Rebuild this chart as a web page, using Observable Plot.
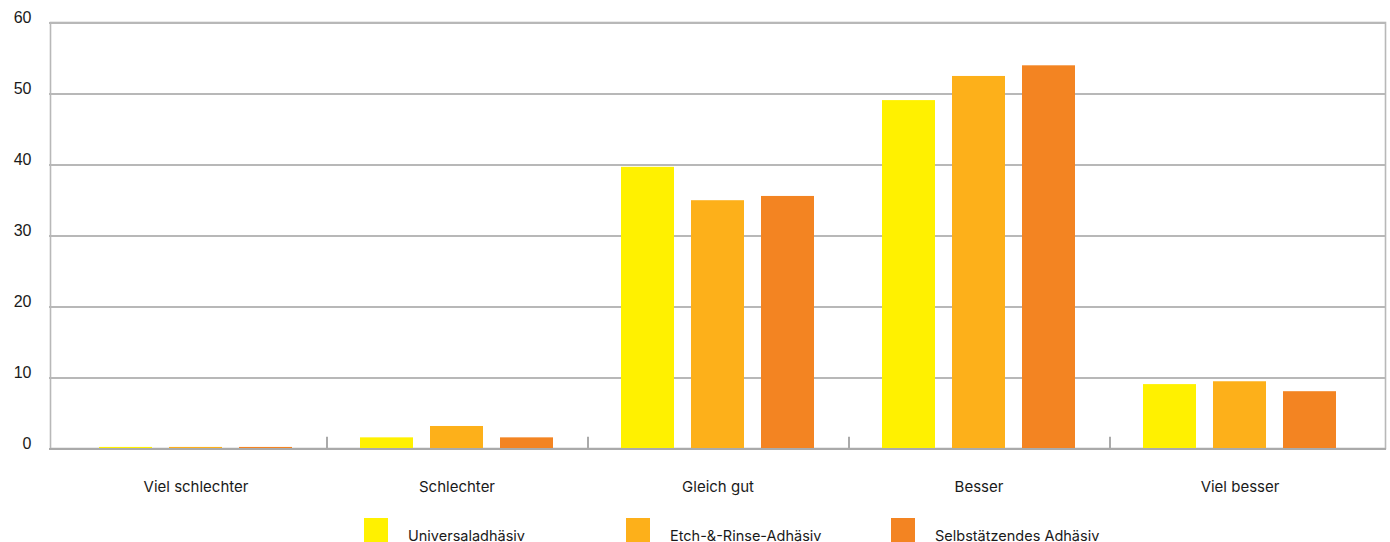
<!DOCTYPE html>
<html>
<head>
<meta charset="utf-8">
<script src="https://cdn.jsdelivr.net/npm/d3@7"></script>
<script src="https://cdn.jsdelivr.net/npm/@observablehq/plot@0.6"></script>
<style>
  html, body { margin: 0; padding: 0; background: #fff; }
  #chart { width: 1390px; }
  #legend { position: relative; width: 1390px; height: 37px; font-family: Inter, "Liberation Sans", sans-serif; font-size: 14.5px; color: #1a1a1a; }
  .item { position: absolute; top: 13px; height: 24px; display: flex; align-items: center; }
  .sw { width: 24px; height: 24px; margin-right: 20px; }
  .lbl { position: relative; top: 5px; }
</style>
</head>
<body>
<div id="chart"></div>
<div id="legend"></div>
<script>
const categories = ["Viel schlechter", "Schlechter", "Gleich gut", "Besser", "Viel besser"];
const series = ["Universaladhäsiv", "Etch-&-Rinse-Adhäsiv", "Selbstätzendes Adhäsiv"];
const universal = [0.15, 1.5, 39.6, 49.0, 9.0];
const etchRinse = [0.15, 3.1, 34.9, 52.4, 9.4];
const selbst    = [0.15, 1.5, 35.5, 53.9, 8.0];
const colors = ["#FFF100", "#FDB01A", "#F38422"];
const yTicks = [0, 10, 20, 30, 40, 50, 60];

const valuesBySeries = [universal, etchRinse, selbst];
const data = [];
categories.forEach((c, i) => series.forEach((s, j) => data.push({category: c, series: s, value: valuesBySeries[j][i]})));

const gridColor = "#b8b8b8";
const ext = -15;

function build(level) {
  const marks = [];
  if (level >= 1) marks.push(Plot.frame({facet: "super", stroke: gridColor, strokeWidth: 1.6, insetLeft: ext, insetRight: ext}));
  marks.push(Plot.ruleY(yTicks.filter(d => d > 0), {y: d => d, stroke: gridColor, strokeWidth: 2, insetLeft: ext - 1, insetRight: ext - 1, shapeRendering: "crispEdges"}));
  marks.push(Plot.barY(data, {fx: "category", x: "series", y: "value", fill: "series"}));
  marks.push(Plot.ruleY([0], {stroke: "#aaaaaa", strokeWidth: 2, insetLeft: ext - 1, insetRight: ext - 1, shapeRendering: "crispEdges"}));
  marks.push(Plot.ruleX(categories.slice(1), {fx: d => d, x: () => series[0], y1: 0, y2: 1.6, stroke: "#aaaaaa", strokeWidth: 2, dx: -60}));
  const useAxisMark = typeof Plot.axisY === "function";
  if (useAxisMark) {
    marks.push(Plot.axisY(yTicks, {tickSize: 0, tickPadding: 34, dy: -5, tickFormat: d => String(d), fontSize: 16, fill: "#1a1a1a", label: null, fontFamily: "'Liberation Sans', Arial, sans-serif"}));
  }
  return Plot.plot({
    width: 1390,
    height: 505,
    marginLeft: 48,
    marginRight: 3,
    marginTop: 22,
    marginBottom: 57,
    style: {fontFamily: "Inter, 'Liberation Sans', sans-serif", fontSize: "15px", color: "#1a1a1a", background: "#fff"},
    fx: {domain: categories, paddingInner: 0, paddingOuter: 0.0575, label: null, axis: "bottom", tickSize: 0, tickPadding: 33},
    x: {domain: series, paddingInner: 0.25, paddingOuter: 0.475, axis: null},
    y: useAxisMark ? {domain: [0, 60], axis: null} : {domain: [0, 60], ticks: yTicks, tickSize: 0, tickPadding: 34, label: null, tickFormat: d => String(d)},
    color: {domain: series, range: colors},
    marks
  });
}

let chart;
for (const level of [1, 0]) {
  try { chart = build(level); break; } catch (e) { console.error(e); }
}
document.getElementById("chart").appendChild(chart);

const legend = document.getElementById("legend");
const lefts = [364, 626, 891];
series.forEach((s, i) => {
  const it = document.createElement("div");
  it.className = "item";
  it.style.left = lefts[i] + "px";
  const sw = document.createElement("div");
  sw.className = "sw";
  sw.style.background = colors[i];
  const lb = document.createElement("span");
  lb.className = "lbl";
  lb.textContent = s;
  it.appendChild(sw); it.appendChild(lb);
  legend.appendChild(it);
});
</script>
</body>
</html>
